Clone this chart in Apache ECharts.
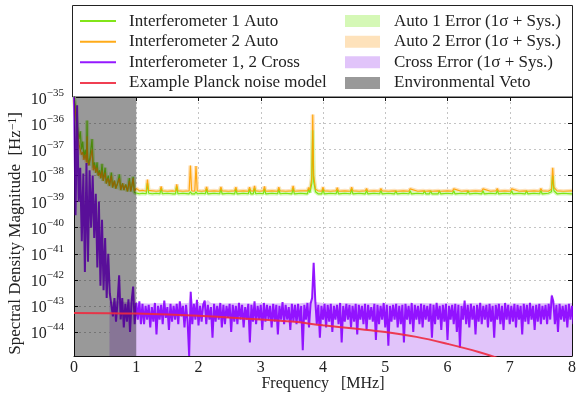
<!DOCTYPE html>
<html>
<head>
<meta charset="utf-8">
<title>Spectral density</title>
<script src="https://cdn.jsdelivr.net/npm/echarts@6.0.0/dist/echarts.min.js"></script>
<style>
  html, body { margin: 0; padding: 0; background: #fff; }
  #chart { width: 576px; height: 393px; }
</style>
</head>
<body>
<div id="chart"></div>
<script>
// auto spectra, frequency in MHz, values in Hz^-1
const autoFreq = [
  0.00, 0.02, 0.04, 0.06, 0.08, 0.10, 0.12, 0.14, 0.16, 0.18,
  0.20, 0.21, 0.22, 0.24, 0.26, 0.29, 0.31, 0.33, 0.35, 0.37,
  0.39, 0.41, 0.43, 0.45, 0.47, 0.50, 0.52, 0.55, 0.57, 0.60,
  0.62, 0.65, 0.67, 0.70, 0.73, 0.75, 0.78, 0.80, 0.83, 0.86,
  0.89, 0.91, 0.93, 0.95, 0.97, 1.00, 1.05, 1.10, 1.16, 1.18,
  1.20, 1.26, 1.32, 1.38, 1.40, 1.42, 1.50, 1.58, 1.63, 1.65,
  1.67, 1.75, 1.85, 1.87, 1.89, 1.94, 1.96, 1.98, 2.05, 2.11,
  2.13, 2.15, 2.25, 2.34, 2.36, 2.38, 2.48, 2.58, 2.60, 2.62,
  2.72, 2.80, 2.82, 2.84, 2.88, 2.90, 2.92, 2.98, 3.04, 3.06,
  3.08, 3.18, 3.27, 3.29, 3.31, 3.40, 3.50, 3.52, 3.54, 3.64,
  3.75, 3.77, 3.79, 3.82, 3.835, 3.85, 3.88, 3.92, 3.98, 4.00,
  4.02, 4.12, 4.21, 4.23, 4.25, 4.35, 4.44, 4.46, 4.48, 4.58,
  4.68, 4.70, 4.72, 4.82, 4.91, 4.93, 4.95, 5.05, 5.15, 5.17,
  5.19, 5.29, 5.38, 5.40, 5.42, 5.52, 5.61, 5.63, 5.65, 5.71,
  5.73, 5.75, 5.85, 5.87, 5.89, 6.00, 6.08, 6.10, 6.12, 6.22,
  6.31, 6.33, 6.35, 6.45, 6.55, 6.57, 6.59, 6.69, 6.78, 6.80,
  6.82, 6.92, 7.01, 7.03, 7.05, 7.15, 7.25, 7.27, 7.29, 7.39,
  7.48, 7.50, 7.52, 7.62, 7.67, 7.69, 7.71, 7.73, 7.76, 7.86,
  8.00
];
const auto1 = [
  1e-35, 5e-36, 1.3e-36, 6.3e-37, 2.5e-37, 5e-37, 1e-37, 2e-37, 5e-38, 1e-37,
  4e-38, 1.3e-36, 5e-38, 2.5e-38, 6.3e-38, 2.5e-37, 2e-38, 3.2e-38, 1.3e-38, 3.2e-38,
  1e-38, 1.6e-38, 8e-39, 2.8e-38, 6.3e-39, 2e-38, 5e-39, 1e-38, 4e-39, 1.3e-38,
  3.5e-39, 6.3e-39, 3.2e-39, 5e-39, 1.1e-38, 2.8e-39, 5e-39, 2.8e-39, 4.5e-39, 2.5e-39,
  8e-39, 2.5e-39, 4e-39, 9e-39, 2.2e-39, 2.6e-39, 2.0e-39, 2.1e-39, 2.0e-39, 5e-39,
  2.1e-39, 2.0e-39, 2.1e-39, 2.0e-39, 3.2e-39, 2.0e-39, 2.1e-39, 2.0e-39, 2.0e-39, 3.8e-39,
  2.0e-39, 2.1e-39, 2.0e-39, 2.4e-39, 2.0e-39, 2.0e-39, 2.4e-39, 2.0e-39, 2.1e-39, 2.0e-39,
  3e-39, 2.0e-39, 2.1e-39, 2.0e-39, 3e-39, 2.0e-39, 2.1e-39, 2.0e-39, 3e-39, 2.0e-39,
  2.1e-39, 2.0e-39, 3e-39, 2.0e-39, 2.0e-39, 3.2e-39, 2.0e-39, 2.1e-39, 2.0e-39, 3e-39,
  2.0e-39, 2.1e-39, 2.0e-39, 3e-39, 2.0e-39, 2.1e-39, 2.0e-39, 3.2e-39, 2.0e-39, 2.1e-39,
  2.0e-39, 3e-39, 2.2e-39, 5e-39, 5.5e-37, 6e-39, 2.4e-39, 2.0e-39, 2.0e-39, 3e-39,
  2.0e-39, 2.1e-39, 2.0e-39, 2.8e-39, 2.0e-39, 2.1e-39, 2.0e-39, 3e-39, 2.0e-39, 2.1e-39,
  2.0e-39, 2.7e-39, 2.0e-39, 2.1e-39, 2.0e-39, 2.7e-39, 2.0e-39, 2.1e-39, 2.0e-39, 2.6e-39,
  2.0e-39, 2.1e-39, 2.0e-39, 2.6e-39, 2.0e-39, 2.1e-39, 2.0e-39, 2.6e-39, 2.0e-39, 2.0e-39,
  2.6e-39, 2.0e-39, 2.0e-39, 2.6e-39, 2.0e-39, 2.1e-39, 2.0e-39, 2.6e-39, 2.0e-39, 2.1e-39,
  2.0e-39, 2.6e-39, 2.0e-39, 2.1e-39, 2.0e-39, 2.6e-39, 2.0e-39, 2.1e-39, 2.0e-39, 2.7e-39,
  2.0e-39, 2.1e-39, 2.0e-39, 2.6e-39, 2.0e-39, 2.1e-39, 2.0e-39, 2.6e-39, 2.0e-39, 2.1e-39,
  2.0e-39, 2.7e-39, 2.0e-39, 2.1e-39, 2.4e-39, 1e-38, 2.6e-39, 3e-39, 2.0e-39, 2.1e-39,
  2.0e-39
];
const auto2 = [
  8e-36, 3.2e-36, 1e-36, 4e-37, 1.6e-37, 1e-37, 6.3e-38, 8e-38, 4e-38, 6.3e-38,
  3.2e-38, 3.2e-37, 3.2e-38, 2.5e-38, 4e-38, 1e-37, 1.6e-38, 2.5e-38, 1.3e-38, 2e-38,
  1e-38, 1.3e-38, 8e-39, 1.6e-38, 6.3e-39, 1.3e-38, 5e-39, 8e-39, 4e-39, 1e-38,
  3.5e-39, 6.3e-39, 3.2e-39, 5e-39, 8e-39, 2.8e-39, 5e-39, 2.8e-39, 4.5e-39, 2.5e-39,
  6.3e-39, 2.5e-39, 4e-39, 8e-39, 2.5e-39, 3.2e-39, 2.6e-39, 2.7e-39, 2.5e-39, 7e-39,
  2.7e-39, 2.6e-39, 2.5e-39, 2.6e-39, 3.8e-39, 2.6e-39, 2.5e-39, 2.6e-39, 2.5e-39, 4.6e-39,
  2.6e-39, 2.5e-39, 2.6e-39, 2.4e-38, 2.6e-39, 2.5e-39, 2.3e-38, 2.6e-39, 2.5e-39, 2.6e-39,
  3.7e-39, 2.5e-39, 2.6e-39, 2.5e-39, 3.7e-39, 2.6e-39, 2.5e-39, 2.6e-39, 3.6e-39, 2.5e-39,
  2.6e-39, 2.5e-39, 3.6e-39, 2.6e-39, 2.5e-39, 4e-39, 2.6e-39, 2.5e-39, 2.6e-39, 3.8e-39,
  2.5e-39, 2.6e-39, 2.5e-39, 3.6e-39, 2.6e-39, 2.5e-39, 2.6e-39, 4e-39, 2.5e-39, 2.6e-39,
  2.6e-39, 3.5e-39, 2.8e-39, 8e-39, 2.2e-36, 1e-38, 3e-39, 2.6e-39, 2.5e-39, 3.6e-39,
  2.6e-39, 2.5e-39, 2.6e-39, 3.4e-39, 2.5e-39, 2.6e-39, 2.5e-39, 3.6e-39, 2.6e-39, 2.5e-39,
  2.6e-39, 3.2e-39, 2.5e-39, 2.6e-39, 2.5e-39, 3.2e-39, 2.6e-39, 2.5e-39, 2.6e-39, 3.1e-39,
  2.5e-39, 2.6e-39, 2.5e-39, 3.1e-39, 2.6e-39, 2.5e-39, 2.6e-39, 3.1e-39, 2.5e-39, 2.6e-39,
  3.1e-39, 2.5e-39, 2.6e-39, 3.1e-39, 2.5e-39, 2.6e-39, 2.5e-39, 3.1e-39, 2.6e-39, 2.5e-39,
  2.6e-39, 3.1e-39, 2.5e-39, 2.6e-39, 2.5e-39, 3.1e-39, 2.6e-39, 2.5e-39, 2.6e-39, 3.2e-39,
  2.5e-39, 2.6e-39, 2.5e-39, 3.1e-39, 2.6e-39, 2.5e-39, 2.6e-39, 3.1e-39, 2.5e-39, 2.6e-39,
  2.5e-39, 3.2e-39, 2.6e-39, 2.5e-39, 3e-39, 2e-38, 3.5e-39, 3.6e-39, 2.6e-39, 2.5e-39,
  2.6e-39
];

// cross spectrum, sampled every 0.025 MHz starting at 0
const CROSS_STEP = 0.025;
const crossVeto = [ // 0 - 0.575
  1e-35, 3e-40, 5e-36, 1e-39, 2e-38, 3e-41, 1.2e-38, 2e-42, 3e-38, 5e-42,
  1.6e-38, 1e-40, 1e-38, 4e-41, 2e-39, 3e-42, 1e-39, 6e-43, 2e-40, 4e-43,
  4e-41, 2e-43, 1e-41, 3e-43
];
const crossBand = [ // 0.6 - 8.075, one row per 0.5 MHz
  3e-43, 4e-44, 2e-43, 2.5e-44, 1.5e-43, 1.5e-42, 3e-44, 2e-43, 1.5e-44, 1.2e-43, 2.5e-44, 1.8e-43, 1e-44, 1.5e-43, 5.5e-43, 2e-44, 1.3e-43, 3e-44, 1.5e-43, 2e-44,
  1.2e-43, 2e-44, 1e-43, 3e-44, 1.1e-43, 1.5e-44, 9e-44, 2.5e-44, 1.3e-43, 8e-45, 1e-43, 3e-44, 1.1e-43, 2e-44, 1.6e-43, 3.5e-44, 9e-44, 1.2e-44, 1.2e-43, 2.5e-44,
  1e-43, 3e-44, 1.2e-43, 2e-44, 1.5e-43, 4e-44, 1e-43, 1.5e-44, 1.1e-43, 2.5e-44, 1.2e-45, 3.5e-43, 2e-44, 1.2e-43, 3e-44, 1.7e-43, 1.8e-44, 1e-43, 2.5e-44, 1.1e-43,
  1.6e-43, 2e-44, 1.1e-43, 3e-44, 9e-44, 6e-45, 1.2e-43, 2.5e-44, 1e-43, 3e-44, 1.3e-43, 1.5e-44, 1.1e-43, 2e-44, 1e-43, 3.5e-44, 1.2e-43, 1e-44, 1.1e-43, 2.5e-44,
  1e-43, 2e-44, 1.3e-43, 3e-44, 1.1e-43, 1.5e-44, 9e-44, 3e-44, 1.2e-43, 4e-45, 1.1e-43, 2.5e-44, 1.5e-43, 2e-44, 1e-43, 3e-44, 1.1e-43, 1.2e-44, 1.3e-43, 2.5e-44,
  1.1e-43, 3e-44, 1e-43, 1.5e-44, 1.2e-43, 2.5e-44, 1.1e-43, 8e-45, 1e-43, 3e-44, 1.4e-43, 2e-44, 1.1e-43, 3e-44, 9e-44, 1.2e-44, 1.2e-43, 2.5e-44, 1.1e-43, 2e-44,
  1.2e-43, 2.5e-44, 1e-43, 2e-45, 1.1e-43, 3e-44, 1.3e-43, 1.5e-44, 1.2e-43, 2e-43, 4.5e-42, 1.8e-43, 2e-44, 1.1e-43, 6e-45, 1e-43, 3e-44, 1.2e-43, 1.5e-44, 1.1e-43,
  2.5e-44, 1.2e-43, 1e-44, 1e-43, 3e-44, 1.1e-43, 2e-44, 1.3e-43, 4e-45, 1e-43, 2.5e-44, 1.2e-43, 3e-44, 1.1e-43, 1.5e-44, 1e-43, 2.5e-44, 1.2e-43, 8e-45, 1.1e-43,
  3e-44, 1e-43, 2e-44, 1.2e-43, 1.2e-44, 1.1e-43, 3e-44, 9e-44, 2.5e-44, 1.2e-43, 5e-45, 1.1e-43, 2e-44, 1e-43, 3e-44, 1.3e-43, 1.5e-44, 1.1e-43, 3e-45, 1e-43,
  2.5e-44, 1.1e-43, 3e-44, 1.2e-43, 1.5e-44, 1e-43, 2e-44, 1.1e-43, 4e-45, 1.2e-43, 3e-44, 1e-43, 2e-44, 1.3e-43, 1e-44, 1.1e-43, 3e-44, 1e-43, 2e-44, 1.2e-43,
  1.5e-44, 1.1e-43, 3e-44, 1e-43, 2.5e-44, 1.2e-43, 6e-45, 1.1e-43, 2e-44, 1.3e-43, 3e-44, 1e-43, 1.2e-44, 1.1e-43, 2.5e-44, 1.2e-43, 5e-45, 1e-43, 3e-44, 1.1e-43,
  2e-44, 1.2e-43, 1e-44, 1.1e-43, 2.5e-45, 1e-43, 3e-44, 1.6e-43, 2e-44, 1.1e-43, 1.5e-44, 1.2e-43, 3e-44, 1e-43, 8e-45, 1.1e-43, 2.5e-44, 1.3e-43, 2e-44, 1e-43,
  3e-44, 1.1e-43, 1.5e-44, 1.2e-43, 2.5e-44, 1e-43, 6e-45, 1.1e-43, 3e-44, 1.2e-43, 2e-44, 1e-43, 1.2e-44, 1.3e-43, 3e-44, 1.1e-43, 2e-44, 1e-43, 2.5e-44, 1.2e-43,
  1.5e-44, 1.1e-43, 3e-44, 1e-43, 8e-45, 1.2e-43, 2.5e-44, 1.1e-43, 2e-44, 1.3e-43, 3e-44, 1e-43, 1.2e-44, 1.1e-43, 2.5e-44, 1.2e-43, 2e-44, 1e-43, 3e-44, 1.1e-43,
  2e-44, 1.2e-43, 3e-44, 2.5e-43, 1.5e-43, 2e-44, 1.1e-43, 1e-44, 1.2e-43, 3e-44, 1e-43, 2.5e-44, 1.1e-43, 1.5e-44, 1.2e-43, 3e-44, 1e-43, 2e-44, 1.1e-43, 2.5e-44
];

// upper edge of the cross error band (lower edge falls off the axis)
const crossErrFreq = [
  0.57, 0.7, 0.85, 1.0, 1.2, 1.4, 1.6, 1.84, 1.875, 1.91,
  2.1, 2.15, 2.2, 2.4, 2.6, 2.8, 3.0, 3.2, 3.4, 3.6,
  3.82, 3.85, 3.88, 4.0, 4.2, 4.4, 4.6, 4.8, 5.0, 5.2,
  5.4, 5.6, 5.8, 6.0, 6.2, 6.4, 6.6, 6.8, 7.0, 7.2,
  7.4, 7.64, 7.675, 7.71, 7.9, 8.0
];
const crossErrUpper = [
  1.4e-43, 1.5e-43, 1.4e-43, 1.3e-43, 1.25e-43, 1.3e-43, 1.25e-43, 1.3e-43, 4e-43, 1.3e-43,
  1.3e-43, 1.7e-43, 1.3e-43, 1.25e-43, 1.3e-43, 1.25e-43, 1.3e-43, 1.25e-43, 1.3e-43, 1.25e-43,
  1.4e-43, 5e-42, 1.4e-43, 1.3e-43, 1.25e-43, 1.3e-43, 1.25e-43, 1.3e-43, 1.25e-43, 1.3e-43,
  1.25e-43, 1.3e-43, 1.25e-43, 1.3e-43, 1.25e-43, 1.3e-43, 1.25e-43, 1.3e-43, 1.25e-43, 1.3e-43,
  1.25e-43, 1.3e-43, 3e-43, 1.3e-43, 1.25e-43, 1.3e-43
];

// Planck noise model
const planckFreq = [0, 1, 2, 3, 3.5, 4, 4.5, 5, 5.5, 6, 6.5, 7];
const planckVals = [5.4e-44, 5.1e-44, 4.2e-44, 3.0e-44, 2.5e-44, 1.8e-44, 1.35e-44, 1.0e-44, 6.5e-45, 3.5e-45, 1.7e-45, 7e-46];

// environmental veto range
const vetoFreq = [0, 1];
const vetoTop = [1.03e-35, 1.03e-35];

// y range a hair past the decades so the 10^-35 tick is an inner one
const Y_MIN = 1.2e-45;
const Y_MAX = 1.03e-35;
const xTicks = [0, 1, 2, 3, 4, 5, 6, 7, 8];

const FONT = "'Liberation Serif', 'DejaVu Serif', serif";
const TEXT = '#222';

const zip = (xs, ys) => xs.map((x, i) => [x, ys[i]]);
const crossVals = crossVeto.concat(crossBand);
const crossFreq = crossVals.map((v, i) => +(i * CROSS_STEP).toFixed(3));

const names = {
  a1: 'Interferometer 1 Auto',
  a2: 'Interferometer 2 Auto',
  cr: 'Interferometer 1, 2 Cross',
  pl: 'Example Planck noise model',
  e1: 'Auto 1 Error (1σ + Sys.)',
  e2: 'Auto 2 Error (1σ + Sys.)',
  ec: 'Cross Error (1σ + Sys.)',
  veto: 'Environmental Veto'
};

function lineSeries(name, data, color, width, opacity, z) {
  return {
    name, type: 'line', data, z,
    symbol: 'none', showSymbol: false, animation: false,
    itemStyle: { color },
    lineStyle: { color, width, opacity }
  };
}

const chart = echarts.init(document.getElementById('chart'), null, { renderer: 'canvas' });

const axisCommon = {
  axisLine: { show: true, onZero: false, lineStyle: { color: '#111', width: 1 } },
  axisTick: { show: true, inside: true, length: 4, lineStyle: { color: '#111' } }
};
const legendText = { fontFamily: FONT, fontSize: 17, color: TEXT };

const option = {
  backgroundColor: '#fff',
  animation: false,
  grid: { left: 74, right: 4, top: 97, bottom: 37, outerBoundsMode: 'none' },
  graphic: [{
    type: 'rect', z: -10, zlevel: 0,
    shape: { x: 72.5, y: 5.5, width: 500, height: 91.5 },
    style: { fill: '#fff', stroke: '#222', lineWidth: 1 }
  }],
  legend: [
    {
      data: [names.a1, names.a2, names.cr, names.pl],
      orient: 'vertical', left: 79, top: 12.6, padding: 0,
      itemWidth: 36, itemHeight: 12, itemGap: 3.6,
      selectedMode: false,
      itemStyle: { opacity: 0 },
      lineStyle: { width: 2 },
      textStyle: Object.assign({ padding: [0, 0, 0, 8] }, legendText)
    },
    {
      data: [
        { name: names.e1, icon: 'rect' },
        { name: names.e2, icon: 'rect' },
        { name: names.ec, icon: 'rect' },
        { name: names.veto, icon: 'rect' }
      ],
      orient: 'vertical', left: 345, top: 12.6, padding: 0,
      itemWidth: 35, itemHeight: 12, itemGap: 3.6,
      selectedMode: false,
      textStyle: Object.assign({ padding: [0, 0, 0, 9] }, legendText)
    }
  ],
  xAxis: [
    Object.assign({
      type: 'value', min: 0, max: 8, interval: 1, position: 'bottom',
      name: 'Frequency   [MHz]', nameLocation: 'middle', nameGap: 20, nameMoveOverlap: false,
      nameTextStyle: { fontFamily: FONT, fontSize: 16, color: TEXT },
      axisLabel: {
        fontFamily: FONT, fontSize: 16, color: TEXT, margin: 4,
        formatter: v => (xTicks.indexOf(v) >= 0 ? String(v) : '')
      },
      splitLine: { show: true, lineStyle: { color: '#c4c4c4', type: [2, 3], width: 1 } }
    }, axisCommon),
    Object.assign({
      type: 'value', min: 0, max: 8, interval: 1, position: 'top',
      axisLabel: { show: false }, splitLine: { show: false }
    }, axisCommon)
  ],
  yAxis: [
    Object.assign({
      type: 'log', logBase: 10, min: Y_MIN, max: Y_MAX, splitNumber: 10,
      name: 'Spectral Density Magnitude  [Hz{s|−1}]',
      nameLocation: 'middle', nameGap: 49, nameRotate: 90, nameMoveOverlap: false,
      nameTextStyle: {
        fontFamily: FONT, fontSize: 17, color: TEXT, padding: [0, 14, 0, 0],
        rich: {
          s: { fontFamily: FONT, fontSize: 11.5, color: TEXT, verticalAlign: 'top', padding: [0, 0, 6, 0] }
        }
      },
      axisLabel: {
        margin: 10, color: TEXT, showMaxLabel: true,
        formatter: v => {
          const e = Math.log10(v);
          if (Math.abs(e - Math.round(e)) > 0.01 || Math.round(e) < -44) return '';
          return '{b|10}{s|−' + Math.abs(Math.round(e)) + '}';
        },
        rich: {
          b: { fontFamily: FONT, fontSize: 16, color: TEXT, lineHeight: 20, verticalAlign: 'bottom' },
          s: { fontFamily: FONT, fontSize: 11, color: TEXT, lineHeight: 10, verticalAlign: 'top' }
        }
      },
      splitLine: { show: true, lineStyle: { color: '#c4c4c4', type: [2, 3], width: 1 } }
    }, axisCommon),
    Object.assign({
      type: 'log', logBase: 10, min: Y_MIN, max: Y_MAX, splitNumber: 10, position: 'right',
      axisLabel: { show: false }, splitLine: { show: false }
    }, axisCommon)
  ],
  series: [
    // cross error band, filled down to the axis floor
    Object.assign(lineSeries(names.ec, zip(crossErrFreq, crossErrUpper), '#e1c4fa', 0, 0, 1), {
      areaStyle: { color: '#e1c4fa', opacity: 1, origin: Y_MIN }
    }),
    // auto error bands
    lineSeries(names.e2, zip(autoFreq, auto2), '#fee2bb', 4, 1, 2),
    lineSeries(names.e1, zip(autoFreq, auto1), '#d5f8b6', 4, 1, 2),
    lineSeries(names.a1, zip(autoFreq, auto1), '#74e200', 1.2, 0.9, 3),
    lineSeries(names.a2, zip(autoFreq, auto2), '#ffa200', 1.2, 0.9, 3),
    lineSeries(names.cr, zip(crossFreq, crossVals), '#8a00ff', 2, 0.9, 3),
    // veto shading over everything but the model line
    Object.assign(lineSeries(names.veto, zip(vetoFreq, vetoTop), 'rgba(0,0,0,0.4)', 0, 0, 4), {
      areaStyle: { color: 'rgba(0,0,0,0.4)', opacity: 1, origin: Y_MIN }
    }),
    Object.assign(lineSeries(names.pl, zip(planckFreq, planckVals), '#ee2a3f', 2, 0.9, 5), { smooth: 0.4 })
  ]
};

chart.setOption(option);
</script>
</body>
</html>
